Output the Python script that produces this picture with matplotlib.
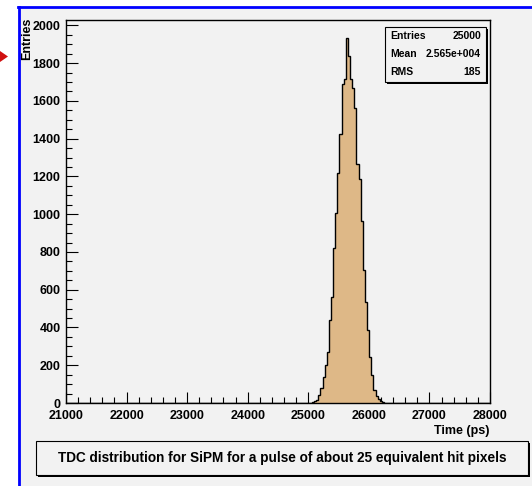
import numpy as np
import matplotlib
matplotlib.use("Agg")
import matplotlib.pyplot as plt
from matplotlib.patches import Rectangle, Polygon
from matplotlib.ticker import MultipleLocator

# ---- data ----
n_bins = 200
x_min, x_max = 21000, 28000
first_bin = 116  # index of first non-empty bin
counts_nonzero = [3, 8, 18, 45, 80, 140, 200, 270, 440, 560, 820, 1005, 1220, 1425,
                  1690, 1715, 1932, 1837, 1716, 1668, 1560, 1267, 1188, 966, 702,
                  535, 385, 245, 148, 69, 35, 20, 8, 3]
stats_labels = ["Entries", "Mean", "RMS"]
stats_values = ["25000", "2.565e+004", "185"]
title = "TDC distribution for SiPM for a pulse of about 25 equivalent hit pixels"
xlabel = "Time (ps)"
ylabel = "Entries"

counts = np.zeros(n_bins)
counts[first_bin:first_bin + len(counts_nonzero)] = counts_nonzero
edges = np.linspace(x_min, x_max, n_bins + 1)

W, H = 532, 486
bg = "#f2f2f2"
plt.rcParams['font.family'] = ['Liberation Sans', 'DejaVu Sans']
fig = plt.figure(figsize=(W / 100, H / 100), dpi=100, facecolor=bg)

def fx(px):
    return px / W

def fy(py):
    return 1 - py / H

# white strips outside the blue frame
fig.patches.append(Rectangle((0, fy(7)), 1, 1 - fy(7), transform=fig.transFigure,
                             facecolor="white", edgecolor="none", zorder=-10))
fig.patches.append(Rectangle((0, 0), fx(18), 1, transform=fig.transFigure,
                             facecolor="white", edgecolor="none", zorder=-10))
fig.lines.append(plt.Line2D([fx(18), 1], [fy(7.5), fy(7.5)], transform=fig.transFigure,
                            color="#0000ff", lw=2, zorder=-5))
fig.lines.append(plt.Line2D([fx(18.5), fx(18.5)], [fy(7), 0], transform=fig.transFigure,
                            color="#0000ff", lw=2, zorder=-5))
# red arrow marker at the left edge
fig.patches.append(Polygon([(fx(0), fy(51)), (fx(8), fy(56.5)), (fx(0), fy(62))],
                           closed=True, transform=fig.transFigure,
                           facecolor="#d01010", edgecolor="none", zorder=-5))

ax = fig.add_axes([fx(66), fy(403), fx(490) - fx(66), fy(20) - fy(403)])
ax.set_facecolor(bg)
ax.stairs(counts, edges, fill=True, facecolor="#deb887", edgecolor="none", zorder=2)
ax.stairs(counts, edges, fill=False, color="black", lw=1.0, zorder=3)
ax.set_xlim(x_min, x_max)
ax.set_ylim(0, 1.05 * max(counts))

for s in ax.spines.values():
    s.set_linewidth(1.0)
    s.set_color("black")

ax.xaxis.set_major_locator(MultipleLocator(1000))
ax.xaxis.set_minor_locator(MultipleLocator(200))
ax.yaxis.set_major_locator(MultipleLocator(200))
ax.yaxis.set_minor_locator(MultipleLocator(50))
ax.tick_params(which="both", direction="in", top=False, right=False, color="black", width=0.8)
ax.tick_params(axis="x", which="major", length=8, pad=5)
ax.tick_params(axis="x", which="minor", length=4)
ax.tick_params(axis="y", which="major", length=8.5, pad=4)
ax.tick_params(axis="y", which="minor", length=4.2)
for lab in ax.get_xticklabels() + ax.get_yticklabels():
    lab.set_fontweight("bold")
    lab.set_fontsize(9)

fig.text(fx(27), fy(18), ylabel, rotation=90, ha="center", va="top",
         fontsize=9, fontweight="bold")
fig.text(fx(490), fy(431), xlabel, ha="right", va="center", fontsize=9, fontweight="bold")

# stats box
sx0, sy0, sx1, sy1 = 385, 27, 486, 82
fig.patches.append(Rectangle((fx(sx0 + 2), fy(sy1 + 2)), fx(sx1) - fx(sx0), fy(sy0) - fy(sy1),
                             transform=fig.transFigure, facecolor="black", edgecolor="none", zorder=5))
fig.patches.append(Rectangle((fx(sx0), fy(sy1)), fx(sx1) - fx(sx0), fy(sy0) - fy(sy1),
                             transform=fig.transFigure, facecolor=bg, edgecolor="black", lw=0.8, zorder=6))
rows_y = [36, 54, 72]
for lab, val, ry in zip(stats_labels, stats_values, rows_y):
    fig.text(fx(sx0 + 5), fy(ry), lab, ha="left", va="center", fontsize=7.5,
             fontweight="bold", zorder=7)
    fig.text(fx(sx1 - 5), fy(ry), val, ha="right", va="center", fontsize=7.5,
             fontweight="bold", zorder=7)

# title box
tx0, ty0, tx1, ty1 = 36, 441, 528, 475
fig.patches.append(Rectangle((fx(tx0 + 2), fy(ty1 + 2)), fx(tx1) - fx(tx0), fy(ty0) - fy(ty1),
                             transform=fig.transFigure, facecolor="black", edgecolor="none", zorder=5))
fig.patches.append(Rectangle((fx(tx0), fy(ty1)), fx(tx1) - fx(tx0), fy(ty0) - fy(ty1),
                             transform=fig.transFigure, facecolor=bg, edgecolor="black", lw=0.8, zorder=6))
fig.text(fx((tx0 + tx1) / 2), fy((ty0 + ty1) / 2), title, ha="center", va="center",
         fontsize=9.8, fontweight="bold", zorder=7)

fig.savefig("out.png", dpi=100, facecolor=bg)
